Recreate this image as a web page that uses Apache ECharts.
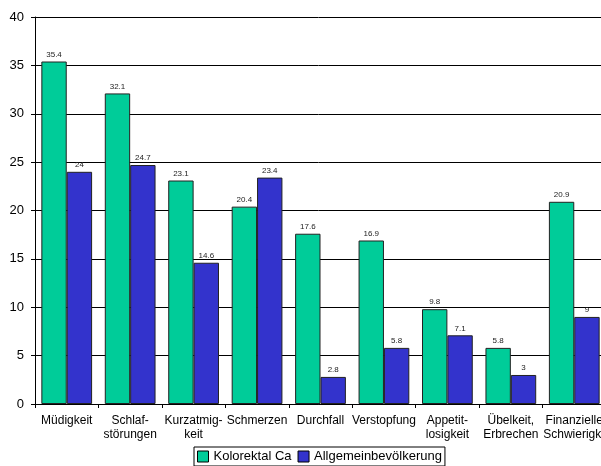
<!DOCTYPE html>
<html><head><meta charset="utf-8">
<script src="https://cdn.jsdelivr.net/npm/echarts@6/dist/echarts.min.js"></script>
<style>html,body{margin:0;padding:0;background:#fff}#c{width:601px;height:466px}</style>
</head><body><div id="c"></div>
<script>
const categories = ['Müdigkeit','Schlaf-\nstörungen','Kurzatmig-\nkeit','Schmerzen','Durchfall','Verstopfung','Appetit-\nlosigkeit','Übelkeit,\nErbrechen','Finanzielle\nSchwierigk-'];
const seriesNames = ['Kolorektal Ca','Allgemeinbevölkerung'];
const kolorektal = [35.4,32.1,23.1,20.4,17.6,16.9,9.8,5.8,20.9];
const allgemein = [24,24.7,14.6,23.4,2.8,5.8,7.1,3,9];
const yTicks = {min:0,max:40,interval:5};

const chart = echarts.init(document.getElementById('c'));
const F = 'Liberation Sans, Arial, sans-serif';
const lbl = {show:true,position:'top',fontSize:8,color:'#222',fontFamily:F,distance:3};
chart.setOption({
  animation:false,
  textStyle:{fontFamily:F},
  grid:{left:35,width:571,top:17,height:387,containLabel:false,outerBoundsMode:'none'},
  legend:{top:447,left:194,itemWidth:11,itemHeight:11,itemGap:6,
    borderColor:'#000',borderWidth:1,padding:[3,3,3,3],
    textStyle:{fontSize:13,color:'#000',fontFamily:F},
    data:seriesNames.map(n=>({name:n,icon:'rect',itemStyle:{borderColor:'#000',borderWidth:1}}))},
  xAxis:{type:'category',data:categories,
    axisLine:{lineStyle:{color:'#000',width:1}},
    axisTick:{show:true,length:4,lineStyle:{color:'#000'}},
    axisLabel:{fontSize:12,color:'#000',interval:0,margin:10,lineHeight:13.5,fontFamily:F,hideOverlap:false}},
  yAxis:{type:'value',min:yTicks.min,max:yTicks.max,interval:yTicks.interval,
    axisLine:{show:true,lineStyle:{color:'#000'}},
    axisTick:{show:true,length:4,lineStyle:{color:'#000'}},
    axisLabel:{fontSize:13,color:'#000',margin:11,fontFamily:F},
    splitLine:{lineStyle:{color:'#000',width:1}}},
  series:[
    {name:seriesNames[0],type:'bar',data:kolorektal,barGap:'0%',barCategoryGap:'20%',
     itemStyle:{color:'#00CC99',borderColor:'#222',borderWidth:1},label:lbl},
    {name:seriesNames[1],type:'bar',data:allgemein,
     itemStyle:{color:'#3333CC',borderColor:'#222',borderWidth:1},label:lbl}
  ]
});
</script></body></html>
